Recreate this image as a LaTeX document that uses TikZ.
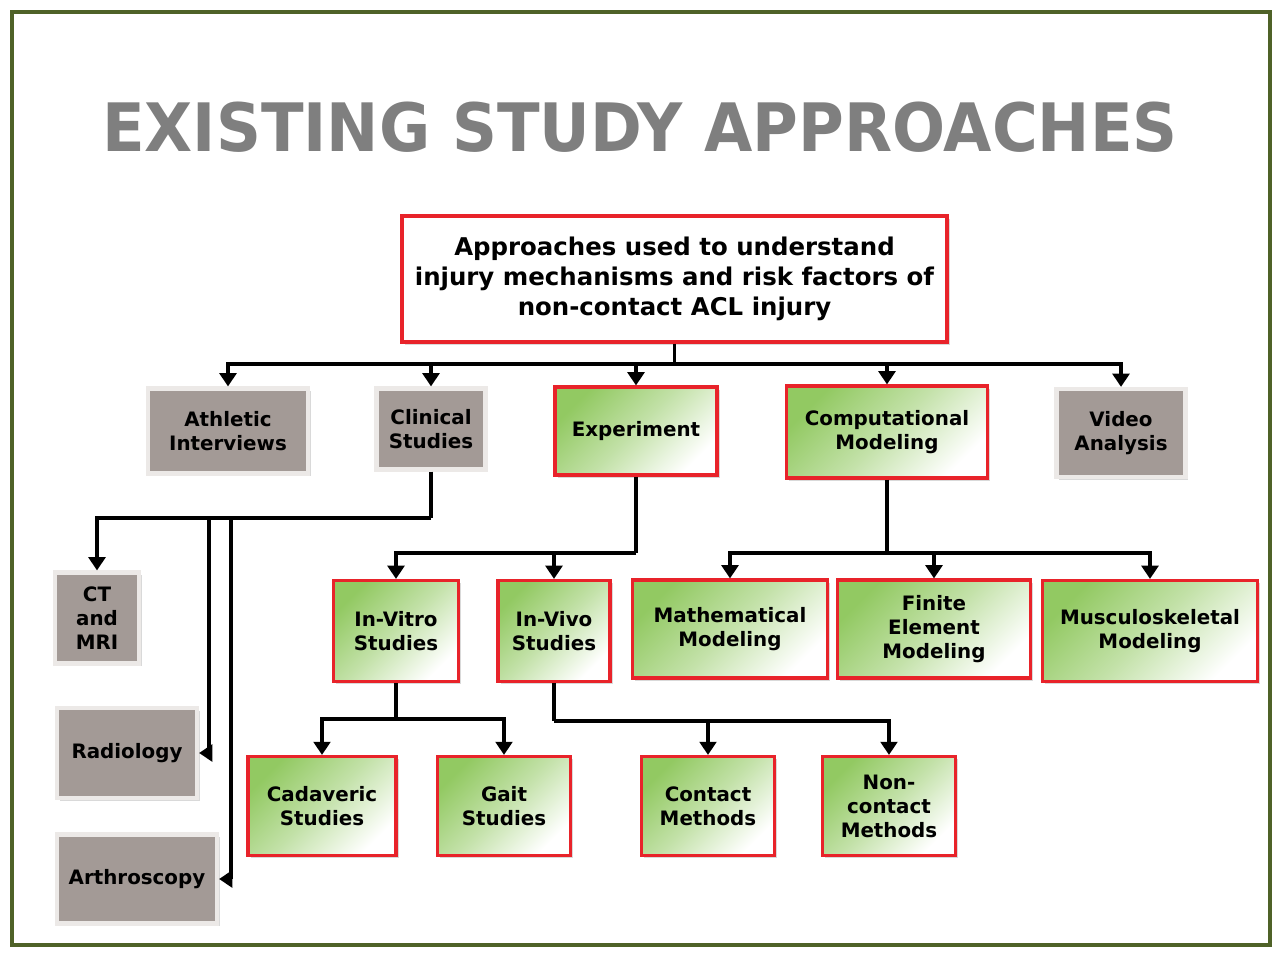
\documentclass[tikz,border=0pt]{standalone}
\usepackage{fontspec}
\setmainfont{DejaVu Sans}
\usetikzlibrary{arrows.meta,shadows}

\definecolor{framegreen}{HTML}{4F6228}
\definecolor{boxgray}{HTML}{A39A96}
\definecolor{rimgray}{HTML}{ECE9E7}
\definecolor{boxred}{HTML}{E8232A}
\definecolor{leaf}{HTML}{92C962}
\definecolor{titlegray}{HTML}{7F7F7F}

\tikzset{
  boxtext/.style={font=\bfseries\fontsize{11.3}{13.7}\selectfont, align=center, inner sep=0pt},
  graybox/.style={rectangle, boxtext, fill=boxgray, draw=rimgray, line width=2.4pt,
    drop shadow={opacity=0.3, shadow xshift=1.5pt, shadow yshift=-1.5pt}},
  greenbox/.style={rectangle, boxtext, draw=boxred, line width=1.8pt,
    top color=leaf, bottom color=white, middle color=leaf!55!white, shading angle=45,
    drop shadow={opacity=0.3, shadow xshift=1.5pt, shadow yshift=-1.5pt}},
  link/.style={line width=2pt},
  arr/.style={link, -{Triangle[length=7.5pt,width=9.5pt]}}
}

\begin{document}
\begin{tikzpicture}[x=0.02cm, y=-0.02cm]

  \useasboundingbox (0,0) rectangle (1275,955);
  \draw[framegreen, line width=2.3pt] (12,12) rectangle (1270,945);

  \node[font=\bfseries\fontsize{38}{40}\selectfont, text=titlegray] (title) at (640,127)
    {\scalebox{0.935}[1]{EXISTING STUDY APPROACHES}};

  \node[rectangle, align=center, inner sep=0pt, fill=white, draw=boxred, line width=1.8pt,
    font=\bfseries\fontsize{13.9}{17}\selectfont, minimum width=10.9cm, minimum height=2.52cm,
    drop shadow={opacity=0.3, shadow xshift=1.5pt, shadow yshift=-1.5pt}] (top) at (674.5,279)
    {Approaches used to understand\\injury mechanisms and risk factors of\\non-contact ACL injury};

  % first level
  \node[graybox, minimum width=3.2cm, minimum height=1.7cm] (ath) at (228,431) {Athletic\\Interviews};
  \node[graybox, minimum width=2.18cm, minimum height=1.62cm] (cli) at (431,429) {Clinical\\Studies};
  \node[greenbox, minimum width=3.24cm, minimum height=1.76cm] (exp) at (636,431) {Experiment};
  \node[greenbox, minimum width=4.02cm, minimum height=1.84cm] (comp) at (887,432) {Computational\\Modeling};
  \node[graybox, minimum width=2.58cm, minimum height=1.76cm] (vid) at (1121,433) {Video\\Analysis};

  % clinical branch
  \node[graybox, minimum width=1.68cm, minimum height=1.82cm] (ct) at (97,618) {CT\\and\\MRI};
  \node[graybox, minimum width=2.8cm, minimum height=1.8cm] (rad) at (127,753) {Radiology};
  \node[graybox, minimum width=3.2cm, minimum height=1.78cm] (arth) at (137,879) {Arthroscopy};

  % second level
  \node[greenbox, minimum width=2.5cm, minimum height=2.02cm] (vitro) at (396,631) {In-Vitro\\Studies};
  \node[greenbox, minimum width=2.24cm, minimum height=2.02cm] (vivo) at (554,631) {In-Vivo\\Studies};
  \node[greenbox, minimum width=3.9cm, minimum height=1.96cm] (math) at (730,629) {Mathematical\\Modeling};
  \node[greenbox, minimum width=3.86cm, minimum height=1.96cm] (fem) at (934,629) {Finite\\Element\\Modeling};
  \node[greenbox, minimum width=4.3cm, minimum height=2.02cm] (msk) at (1150,631) {Musculoskeletal\\Modeling};

  % third level
  \node[greenbox, minimum width=2.96cm, minimum height=1.98cm] (cad) at (322,806) {Cadaveric\\Studies};
  \node[greenbox, minimum width=2.66cm, minimum height=1.98cm] (gait) at (504,806) {Gait\\Studies};
  \node[greenbox, minimum width=2.66cm, minimum height=1.98cm] (cont) at (708,806) {Contact\\Methods};
  \node[greenbox, minimum width=2.66cm, minimum height=1.98cm] (ncont) at (889,806) {Non-\\contact\\Methods};

  % junctions
  \coordinate (j0) at (674.5,364);
  \coordinate (k0) at (431,518);
  \coordinate (k1) at (209,518);
  \coordinate (k2) at (231,518);
  \coordinate (e0) at (636,553);
  \coordinate (m0) at (887,553);
  \coordinate (v0) at (396,719);
  \coordinate (w0) at (554,721);

  \draw[link] (top) -- (j0);
  \foreach \n in {ath,cli,exp,comp,vid}
    \draw[arr] (j0) -| (\n);

  \draw[link] (cli) -- (k0);
  \draw[arr] (k0) -| (ct);
  \draw[arr] (k1) |- (rad);
  \draw[arr] (k2) |- (arth);

  \draw[link] (exp) -- (e0);
  \draw[arr] (e0) -| (vitro);
  \draw[arr] (e0) -| (vivo);

  \draw[link] (comp) -- (m0);
  \foreach \n in {math,fem,msk}
    \draw[arr] (m0) -| (\n);

  \draw[link] (vitro) -- (v0);
  \draw[arr] (v0) -| (cad);
  \draw[arr] (v0) -| (gait);

  \draw[link] (vivo) -- (w0);
  \draw[arr] (w0) -| (cont);
  \draw[arr] (w0) -| (ncont);

\end{tikzpicture}
\end{document}
